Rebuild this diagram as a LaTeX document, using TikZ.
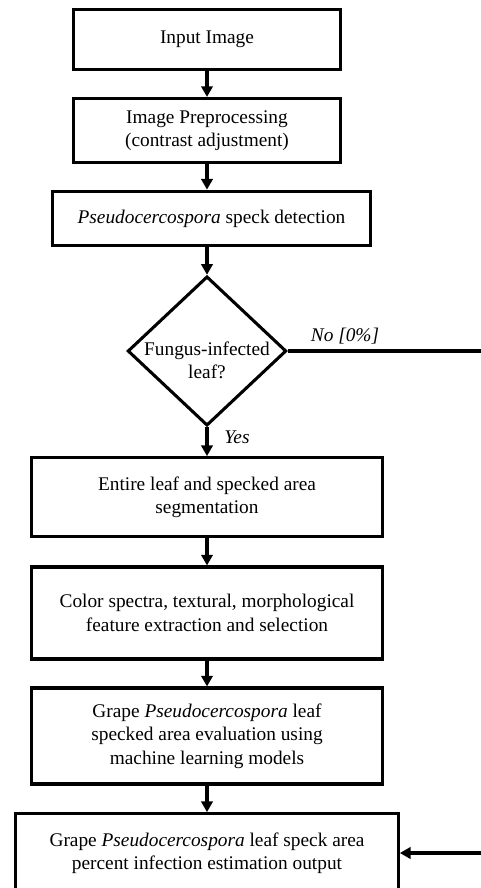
\documentclass[tikz,border=0pt]{standalone}
\usepackage{fontspec}
\setmainfont{Liberation Serif}
\usetikzlibrary{arrows.meta,shapes.geometric}

\begin{document}
\begin{tikzpicture}[x=0.75pt,y=-0.75pt,
		box/.style={draw,line width=2.3pt,align=center,inner sep=0pt,font=\fontsize{14.5}{17.5}\selectfont},
		line/.style={line width=2.3pt,-{Triangle[length=8pt,width=8.5pt]}},
		lbl/.style={font=\fontsize{14.5}{17.5}\selectfont\itshape}]
						\useasboundingbox (0,0) rectangle (481,888);
						\clip (0,0) rectangle (481,888);
						
						\node[box,minimum width=200pt,minimum height=45pt] (inp) at (207,39.5) {Input Image};
						\node[box,minimum width=200pt,minimum height=48pt] (pre) at (207,130.5) {Image Preprocessing\\(contrast adjustment)};
						\node[box,minimum width=238pt,minimum height=41pt] (det) at (211.5,218.5) {\textit{Pseudocercospora} speck detection};
						\node[draw,diamond,line width=2.3pt,inner sep=0pt,minimum width=119pt,minimum height=112pt] (dec) at (207,351) {};
						\node[align=center,font=\fontsize{14.5}{17}\selectfont] (dectxt) at (207,360) {Fungus-infected\\leaf?};
						\node[box,minimum width=263pt,minimum height=59pt] (seg) at (207,497) {Entire leaf and specked area\\segmentation};
						\node[box,minimum width=263pt,minimum height=69pt] (feat) at (207,613) {Color spectra, textural, morphological\\feature extraction and selection};
						\node[box,minimum width=263pt,minimum height=72pt] (eval) at (207,736) {Grape \textit{Pseudocercospora} leaf\\specked area evaluation using\\machine learning models};
						\node[box,minimum width=287pt,minimum height=59pt] (out) at (207,853) {Grape \textit{Pseudocercospora} leaf speck area\\percent infection estimation output};
						
						\node[lbl] (yes) at (237,437) {Yes};
						\node[lbl] (no) at (345,336) {No [0\%]};
						\coordinate (rc) at (492,351);
						
						\draw[line] (inp) -- (pre);
						\draw[line] (pre.south) -- (pre.south |- det.north);
						\draw[line] (det.south -| dec.north) -- (dec.north);
						\draw[line] (dec) -- (seg);
						\draw[line] (seg) -- (feat);
						\draw[line] (feat) -- (eval);
						\draw[line] (eval) -- (out);
						\draw[line] (dec.east) -- (rc) |- (out.east);
					\end{tikzpicture}
\end{document}
